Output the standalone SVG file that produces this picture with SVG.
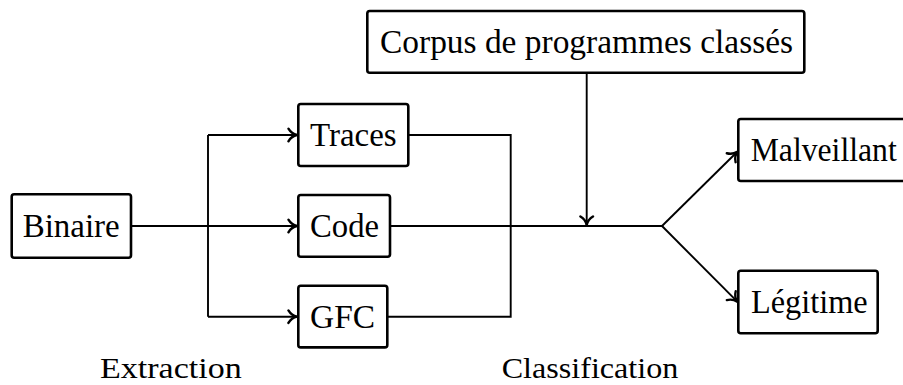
<svg xmlns="http://www.w3.org/2000/svg" width="903" height="385" viewBox="0 0 903 385">
<defs>
<style>
.box{fill:#fff;stroke:#000;stroke-width:2.6;}
.t{font-family:"Liberation Serif","DejaVu Serif",serif;font-size:33px;fill:#000;}
.lbl{font-family:"Liberation Serif","DejaVu Serif",serif;font-size:30px;fill:#000;}
.c{fill:none;stroke:#000;stroke-width:1.9;}
</style>
<marker id="arr" markerUnits="userSpaceOnUse" markerWidth="16" markerHeight="16" viewBox="-9 -7 11 14" refX="0" refY="0" orient="auto">
<path d="M -7.5 -5.5 C -5.5 -2.2 -2.8 -0.6 0 0 C -2.8 0.6 -5.5 2.2 -7.5 5.5" fill="none" stroke="#000" stroke-width="2.1" stroke-linecap="round" stroke-linejoin="round"/>
</marker>
</defs>
<rect width="903" height="385" fill="#fff"/>
<g id="connectors">
<path class="c" d="M131 226 H297" marker-end="url(#arr)"/>
<path class="c" d="M208 135 V316.7"/>
<path class="c" d="M208 135 H297" marker-end="url(#arr)"/>
<path class="c" d="M208 316.7 H297" marker-end="url(#arr)"/>
<path class="c" d="M408.3 135 H510.7 V316.7 H387.3"/>
<path class="c" d="M390 226 H662"/>
<path class="c" d="M586.7 72.7 V225" marker-end="url(#arr)"/>
<path class="c" d="M662 226 L737.3 151.7" marker-end="url(#arr)"/>
<path class="c" d="M662 226 L737.3 301.7" marker-end="url(#arr)"/>
</g>
<g id="binaire">
<rect class="box" x="11.7" y="194.3" width="119.3" height="63.4" rx="2.5"/>
<text class="t" x="22.7" y="237" textLength="97" lengthAdjust="spacingAndGlyphs">Binaire</text>
</g>
<g id="traces">
<rect class="box" x="298.3" y="104" width="110" height="62" rx="2.5"/>
<text class="t" x="310" y="146" textLength="86.7" lengthAdjust="spacingAndGlyphs">Traces</text>
</g>
<g id="code">
<rect class="box" x="298.3" y="195" width="91.7" height="61.7" rx="2.5"/>
<text class="t" x="310" y="237" textLength="69" lengthAdjust="spacingAndGlyphs">Code</text>
</g>
<g id="gfc">
<rect class="box" x="298.3" y="285.7" width="89" height="61.7" rx="2.5"/>
<text class="t" x="310" y="327.5" textLength="65" lengthAdjust="spacingAndGlyphs">GFC</text>
</g>
<g id="corpus">
<rect class="box" x="367.3" y="11" width="437" height="61.7" rx="2.5"/>
<text class="t" x="380" y="53" textLength="413" lengthAdjust="spacingAndGlyphs">Corpus de programmes classés</text>
</g>
<g id="malveillant">
<rect class="box" x="738.3" y="119" width="170" height="62" rx="2.5"/>
<text class="t" x="750.7" y="161" textLength="146" lengthAdjust="spacingAndGlyphs">Malveillant</text>
</g>
<g id="legitime">
<rect class="box" x="738.3" y="270.7" width="139.4" height="62.6" rx="2.5"/>
<text class="t" x="751" y="313" textLength="116.7" lengthAdjust="spacingAndGlyphs">Légitime</text>
</g>
<g id="labels">
<text class="lbl" x="100" y="378" textLength="141.7" lengthAdjust="spacingAndGlyphs">Extraction</text>
<text class="lbl" x="501.7" y="378" textLength="176.6" lengthAdjust="spacingAndGlyphs">Classification</text>
</g>
</svg>
